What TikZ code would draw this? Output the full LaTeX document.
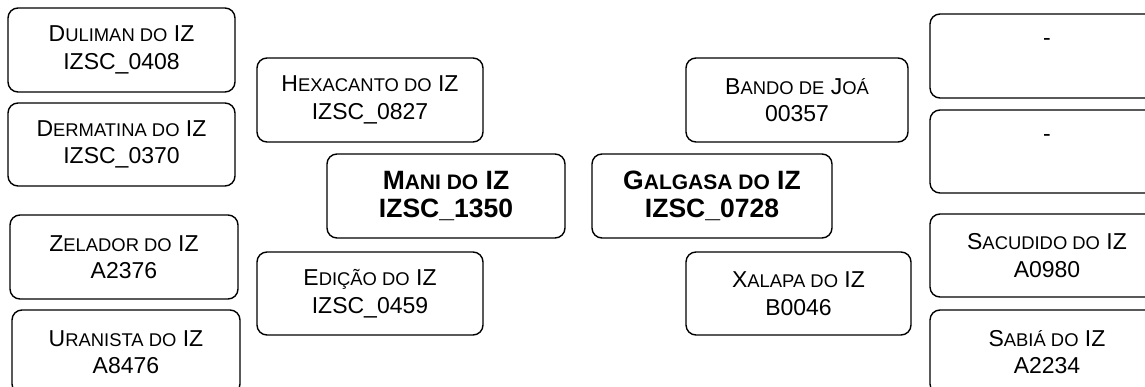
\documentclass[tikz,border=0pt]{standalone}
\usepackage{fontspec}
\setmainfont{Liberation Sans}
\newcommand\smc[1]{{\fontsize{18.4}{27.5}\selectfont #1}}
\newcommand\smb[1]{{\fontsize{21}{28}\selectfont\bfseries #1}}
\begin{document}
\begin{tikzpicture}[x=1pt,y=-1pt,
  boxstyle/.style={draw=black, line width=1.4pt, rounded corners=10pt, inner sep=0pt,
    align=center, font=\fontsize{23}{27.5}\selectfont, minimum height=84pt},
  mainbox/.style={boxstyle, font=\fontsize{26.5}{28}\selectfont\bfseries}]
\useasboundingbox (0,0) rectangle (1145,387);
% left column
\node[boxstyle, minimum width=227pt] (duliman) at (121.5,50) {D\smc{ULIMAN DO} IZ\\IZSC\_0408};
\node[boxstyle, minimum width=227pt, minimum height=83pt] (dermatina) at (121.5,144.5) {D\smc{ERMATINA DO} IZ\\IZSC\_0370};
\node[boxstyle, minimum width=228pt] (zelador) at (124,257) {Z\smc{ELADOR DO} IZ\\A2376};
\node[boxstyle, minimum width=228pt] (uranista) at (126,352) {U\smc{RANISTA DO} IZ\\A8476};
% inner left
\node[boxstyle, minimum width=226pt] (hexacanto) at (370,100) {H\smc{EXACANTO DO} IZ\\IZSC\_0827};
\node[boxstyle, minimum width=226pt, minimum height=83pt] (edicao) at (370,293.5) {E\smc{DIÇÃO DO} IZ\\IZSC\_0459};
% centre
\node[mainbox, minimum width=238pt] (mani) at (446,196) {M\smb{ANI DO} IZ\\IZSC\_1350};
\node[mainbox, minimum width=240pt] (galgasa) at (712,196) {G\smb{ALGASA DO} IZ\\IZSC\_0728};
% inner right
\node[boxstyle, minimum width=222pt] (bando) at (797,100) {B\smc{ANDO DE} J\smc{OÁ}\\00357};
\node[boxstyle, minimum width=225pt, minimum height=83pt] (xalapa) at (798.5,293.5) {X\smc{ALAPA DO} IZ\\B0046};
% right column
\node[boxstyle, minimum width=234pt] (rone) at (1047,56) {-\\\mbox{}};
\node[boxstyle, minimum width=234pt, minimum height=83pt] (rtwo) at (1047,151.5) {-\\\mbox{}};
\node[boxstyle, minimum width=234pt, minimum height=83pt] (sacudido) at (1047,255.5) {S\smc{ACUDIDO DO} IZ\\A0980};
\node[boxstyle, minimum width=234pt] (sabia) at (1047,352) {S\smc{ABIÁ DO} IZ\\A2234};
\end{tikzpicture}
\end{document}
